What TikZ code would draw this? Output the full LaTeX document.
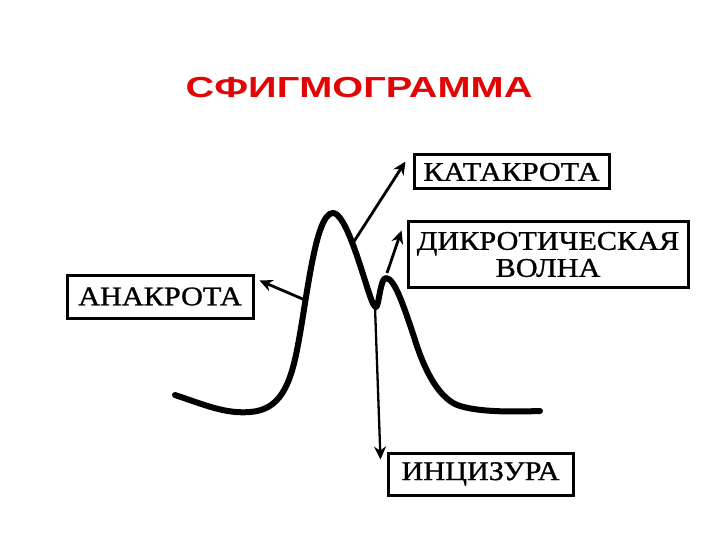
\documentclass[tikz,border=0pt]{standalone}
\usepackage{fontspec}
\setmainfont{Liberation Serif}
\newfontfamily\lblfont[FakeBold=0.9]{Liberation Serif}
\newfontfamily\titlefont{Liberation Sans}
\usetikzlibrary{arrows.meta}
\definecolor{titlered}{RGB}{225,5,5}
\newcommand{\wtxt}[1]{\scalebox{1.12}[1]{#1}}
\begin{document}
\begin{tikzpicture}[x=1pt,y=-1pt,
  lbl/.style={draw=black,line width=3pt,inner sep=0pt,font=\lblfont\fontsize{27}{27}\selectfont,align=center},
  curve/.style={line width=6pt,line cap=round,line join=round},
  pointer/.style={line width=2.8pt,-{Stealth[length=13pt,width=12pt]}}]
\useasboundingbox (0,0) rectangle (720,540);
\fill[white] (0,0) rectangle (720,540);
\node[font=\titlefont\bfseries\fontsize{29}{29}\selectfont,text=titlered] (title) at (359,88) {\scalebox{1.37}[1]{СФИГМОГРАММА}};
\node[lbl,minimum width=195pt,minimum height=34pt] (kat) at (511.5,172) {\wtxt{КАТАКРОТА}};
\node[lbl,minimum width=280pt,minimum height=65pt] (dik) at (548,254.5) {\wtxt{ДИКРОТИЧЕСКАЯ}\\\wtxt{ВОЛНА}};
\node[lbl,minimum width=186pt,minimum height=43pt] (ana) at (160,296.5) {\wtxt{АНАКРОТА}};
\node[lbl,minimum width=185pt,minimum height=42pt] (inc) at (480.5,474) {\wtxt{ИНЦИЗУРА}};
% pulse curve
\draw[curve] (175,395) .. controls (205,405) and (225,414) .. (250,412)
  .. controls (280,410) and (290,385) .. (297,350)
  .. controls (307,300) and (315,213) .. (333,213)
  .. controls (345,213) and (360,265) .. (368,290)
  .. controls (372,302) and (374,307) .. (376,307)
  .. controls (379,307) and (380,278) .. (386,278)
  .. controls (395,278) and (405,310) .. (415,340)
  .. controls (425,372) and (440,400) .. (460,406)
  .. controls (480,412) and (510,412) .. (540,411);
\coordinate (pkat) at (353,243);
\coordinate (pdik) at (387,273);
\coordinate (pana) at (305,300);
\coordinate (pinc) at (375,307);
\draw[pointer] (pkat) -- ([shift={(-7,8)}]kat.north west);
\draw[pointer] (pdik) -- ([shift={(-5,10)}]dik.north west);
\draw[pointer] (pana) -- ([shift={(5,-16)}]ana.east);
\draw[pointer,line width=2.3pt] (pinc) -- ([shift={(-6,8)}]inc.north west);
\end{tikzpicture}
\end{document}
